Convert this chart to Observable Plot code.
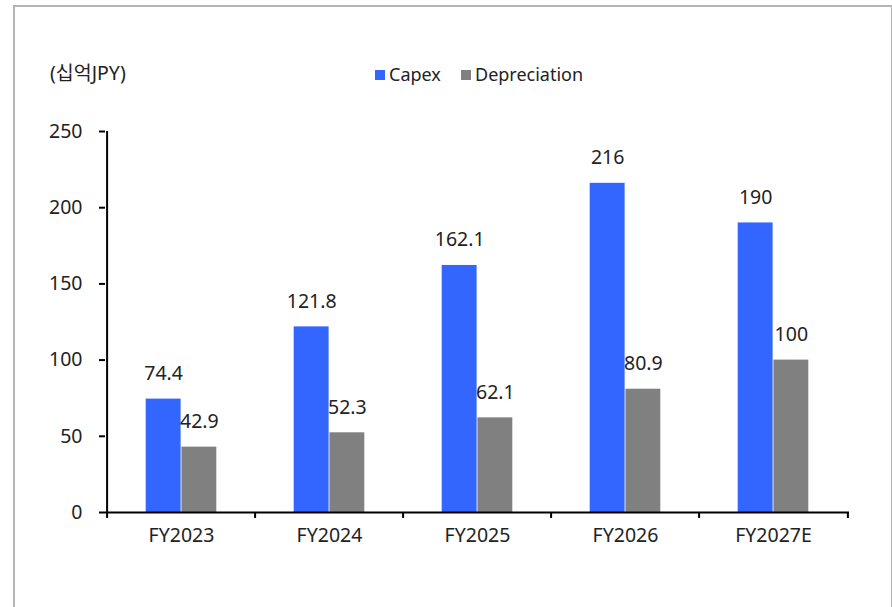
<!DOCTYPE html>
<html><head><meta charset="utf-8">
<script src="https://cdn.jsdelivr.net/npm/d3@7"></script>
<script src="https://cdn.jsdelivr.net/npm/@observablehq/plot@0.6"></script>
<style>
body{margin:0;background:#fff;font-family:"Noto Sans","Noto Sans CJK KR",sans-serif;color:#222;}
#wrap{position:relative;width:892px;height:607px;overflow:hidden;background:#fff;}
#border{position:absolute;left:13px;top:5px;width:880px;height:700px;border:2px solid #b4b4b4;box-sizing:border-box;}
#chart{position:absolute;left:0;top:0;}
.t{position:absolute;font-size:18px;line-height:20px;white-space:nowrap;color:#222;}
.sw{position:absolute;width:10px;height:10px;}
</style></head>
<body>
<div id="wrap">
  <div id="border"></div>
  <div id="chart"></div>
  <div class="t" id="unit" style="left:50px;top:63px;font-size:19.5px;"></div>
  <div id="legend"></div>
</div>
<script>
const years = ["FY2023","FY2024","FY2025","FY2026","FY2027E"];
const capex = [74.4,121.8,162.1,216,190];
const depreciation = [42.9,52.3,62.1,80.9,100];
const yTicks = [0,50,100,150,200,250];
const seriesNames = ["Capex","Depreciation"];
const seriesColors = ["#3366FF","#808080"];
const unitLabel = "(십억JPY)";

const W = 892, H = 607, ML = 105, MR = 43, MT = 131, MB = 95;
const FS = 19.5;
const bw = (W - ML - MR) / years.length;
const barW = bw * 0.24, outer = bw * 0.26;

const capexRows = years.map((y,i)=>({year:y, series:seriesNames[0], value:capex[i]}));
const depRows = years.map((y,i)=>({year:y, series:seriesNames[1], value:depreciation[i]}));

const plot = Plot.plot({
  width: W, height: H,
  marginLeft: ML, marginRight: MR, marginTop: MT, marginBottom: MB,
  style: {fontFamily: '"Noto Sans","Noto Sans CJK KR",sans-serif', fontSize: FS + "px", color: "#222", background: "transparent", overflow: "visible"},
  x: {type: "band", domain: years, padding: 0},
  y: {domain: [0, 250]},
  marks: [
    Plot.barY(capexRows, {x: "year", y: "value", fill: seriesColors[0], insetLeft: outer, insetRight: bw - outer - barW}),
    Plot.barY(depRows, {x: "year", y: "value", fill: seriesColors[1], insetLeft: outer + barW, insetRight: outer}),
    Plot.text(capexRows, {x: "year", y: "value", text: d => String(d.value), dx: -barW/2, dy: -19, lineAnchor: "bottom", fontSize: FS, fill: "#222"}),
    Plot.text(depRows, {x: "year", y: "value", text: d => String(d.value), dx: barW/2, dy: -19, lineAnchor: "bottom", fontSize: FS, fill: "#222"}),
    Plot.ruleY([0], {stroke: "#000", strokeWidth: 2}),
    Plot.ruleX([years[0]], {y1: 0, y2: 250, dx: -bw/2, stroke: "#000", strokeWidth: 2}),
    Plot.ruleX(years, {x: d => d, y1: 0, y2: 0, dx: -bw/2, insetBottom: -6, stroke: "#000", strokeWidth: 2}),
    Plot.ruleX([years[years.length-1]], {x: d => d, y1: 0, y2: 0, dx: bw/2, insetBottom: -6, stroke: "#000", strokeWidth: 2}),
    Plot.axisY(yTicks, {tickSize: 6, tickPadding: 17, strokeWidth: 2, stroke: "#000", fontSize: FS, label: null, fill: "#222"}),
    Plot.axisX({tickSize: 0, tickPadding: 16, fontSize: FS, label: null, fill: "#222"})
  ]
});
document.getElementById("chart").appendChild(plot);
document.getElementById("unit").textContent = unitLabel;

const legendPos = [{sw: 375, tx: 389}, {sw: 461, tx: 475}];
const legend = document.getElementById("legend");
seriesNames.forEach((name, i) => {
  const s = document.createElement("div");
  s.className = "sw";
  s.style.left = legendPos[i].sw + "px"; s.style.top = "70px"; s.style.background = seriesColors[i];
  legend.appendChild(s);
  const t = document.createElement("div");
  t.className = "t";
  t.style.left = legendPos[i].tx + "px"; t.style.top = "64px";
  t.textContent = name;
  legend.appendChild(t);
});
</script>
</body></html>
